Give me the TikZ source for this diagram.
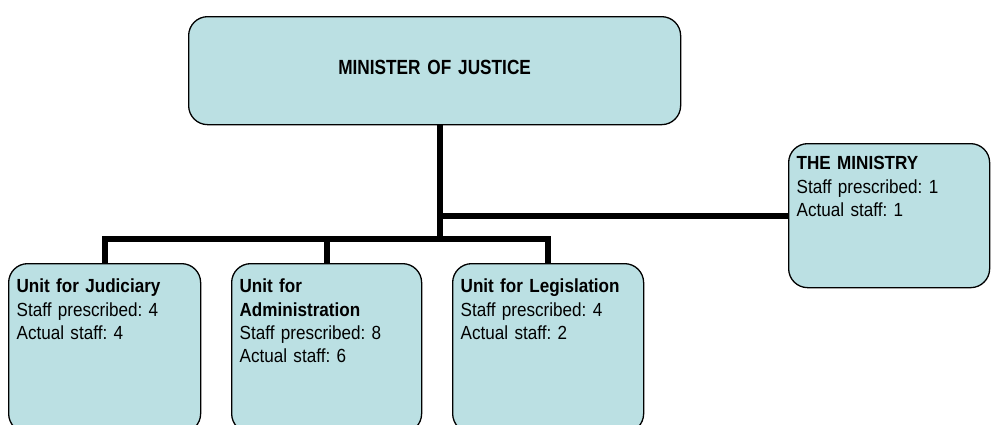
\documentclass[tikz,border=0pt]{standalone}
\usepackage{fontspec}
\newfontfamily\labelfont[FakeStretch=0.9]{Liberation Sans}
\newfontfamily\titlefont[FakeStretch=0.84]{Liberation Sans}
\definecolor{boxfill}{RGB}{187,224,227}
\frenchspacing
\tikzset{
  orgbox/.style={draw=black, line width=1.3pt, fill=boxfill, rounded corners=19pt,
    inner xsep=8pt, inner ysep=0pt, anchor=north west},
  unitbox/.style={orgbox, align=left, text width=#1,
    font=\labelfont\fontsize{19}{23.4}\selectfont},
  conn/.style={line width=6pt, draw=black, line join=miter}
}
\begin{document}
\begin{tikzpicture}[x=1pt, y=-1pt]
  \clip (0,0) rectangle (991,424);

  % head of the ministry
  \node[orgbox, align=center, text width=476pt, text height=58pt, text depth=50pt,
        font=\titlefont\fontsize{20.5}{24}\selectfont\bfseries]
    (minister) at (188,16) {MINISTER OF JUSTICE};

  % ministry staff box on the right
  \node[unitbox=185pt, text height=26pt, text depth=118pt]
    (ministry) at (788,143)
    {\textbf{THE MINISTRY}\\Staff prescribed: 1\\Actual staff: 1};

  % the three units
  \node[unitbox=176pt, text height=29pt, text depth=140pt]
    (judiciary) at (8,263)
    {\textbf{Unit for Judiciary}\\Staff prescribed: 4\\Actual staff: 4};
  \node[unitbox=174pt, text height=29pt, text depth=140pt]
    (administration) at (231,263)
    {\textbf{Unit for}\\\textbf{Administration}\\Staff prescribed: 8\\Actual staff: 6};
  \node[unitbox=175pt, text height=29pt, text depth=140pt]
    (legislation) at (452,263)
    {\textbf{Unit for Legislation}\\Staff prescribed: 4\\Actual staff: 2};

  % trunk and bus lines
  \coordinate (bus) at (440,239);
  \draw[conn] (minister.south -| bus) -- (bus);
  \draw[conn] (ministry.west -| bus) -- (ministry.west);
  \draw[conn] (judiciary.north) |- (bus) -| (legislation.north);
  \draw[conn] (administration.north) -- (administration.north |- bus);
\end{tikzpicture}
\end{document}
